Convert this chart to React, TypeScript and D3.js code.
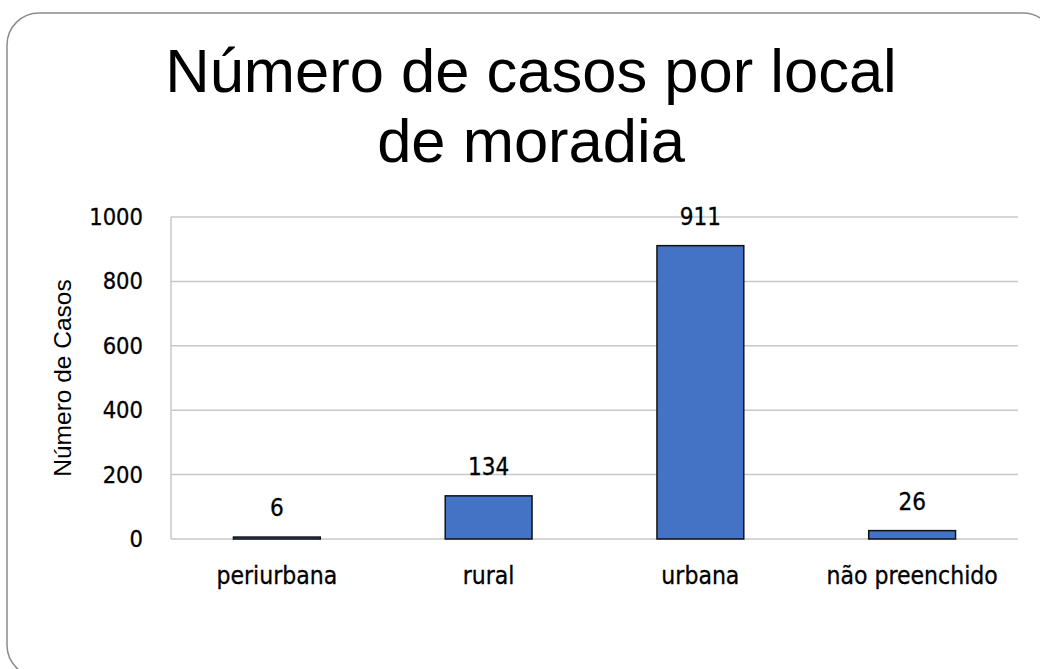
import React from "react";
import * as d3 from "d3";

const categories = ["periurbana", "rural", "urbana", "não preenchido"];
const values = [6, 134, 911, 26];
const yTicks = [0, 200, 400, 600, 800, 1000];
const titleLines = ["Número de casos por local", "de moradia"];
const yAxisTitle = "Número de Casos";

export default function App() {
  const W = 1040;
  const H = 669;
  const left = 171;
  const right = 1018;
  const top = 217;
  const bottom = 539;

  const x = d3.scaleBand<string>().domain(categories).range([left, right]).paddingInner(0.59).paddingOuter(0.295);
  const y = d3.scaleLinear().domain([0, 1000]).range([bottom, top]);
  const tickFont = "'DejaVu Sans Condensed', 'DejaVu Sans', sans-serif";

  return (
    <svg width={W} height={H} style={{ position: "absolute", left: 0, top: 0, background: "#fff" }}>
      <rect x={7} y={13} width={1048} height={664} rx={32} ry={32} fill="#fff" stroke="#8c8c8c" strokeWidth={1.5} />
      {titleLines.map((t, i) => (
        <text key={i} x={531} y={92 + i * 70} textAnchor="middle" fontFamily="'Liberation Sans', Arial, sans-serif" fontSize={61.5} fill="#000">
          {t}
        </text>
      ))}
      {yTicks.map((t) => (
        <g key={t}>
          <line x1={left} x2={right} y1={y(t)} y2={y(t)} stroke="#c8c8c8" strokeWidth={1.5} />
          <text x={143} y={y(t) + 8} textAnchor="end" fontFamily={tickFont} fontSize={23.5} fill="#000" stroke="#000" strokeWidth={0.3}>
            {t}
          </text>
        </g>
      ))}
      <line x1={left} x2={left} y1={top} y2={bottom} stroke="#c8c8c8" strokeWidth={1.5} />
      <text
        transform={`translate(71, ${(top + bottom) / 2}) rotate(-90)`}
        textAnchor="middle"
        fontFamily="'Liberation Sans', Arial, sans-serif"
        fontSize={24.5}
        fill="#000"
      >
        {yAxisTitle}
      </text>
      {categories.map((c, i) => {
        const bx = x(c) as number;
        const bw = x.bandwidth();
        const by = y(values[i]);
        return (
          <g key={c}>
            <rect x={bx} y={by} width={bw} height={bottom - by} fill="#4472C4" stroke="#111" strokeWidth={1.5} />
            <text x={bx + bw / 2} y={by - 21} textAnchor="middle" fontFamily={tickFont} fontSize={24} fill="#000" stroke="#000" strokeWidth={0.3}>
              {values[i]}
            </text>
            <text x={bx + bw / 2} y={584} textAnchor="middle" fontFamily={tickFont} fontSize={24.5} fill="#000" stroke="#000" strokeWidth={0.3}>
              {c}
            </text>
          </g>
        );
      })}
    </svg>
  );
}
